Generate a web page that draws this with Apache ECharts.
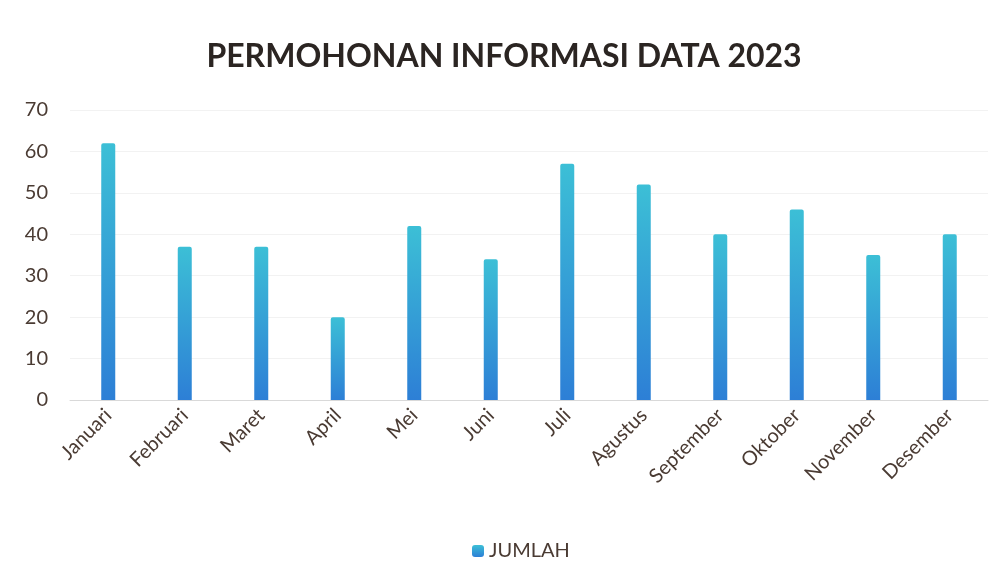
<!DOCTYPE html>
<html>
<head>
<meta charset="utf-8">
<script src="https://cdn.jsdelivr.net/npm/echarts@6/dist/echarts.min.js"></script>
<style>
  html, body { margin: 0; padding: 0; background: #fff; }
  #chart { width: 1008px; height: 583px; }
</style>
</head>
<body>
<div id="chart"></div>
<script>
var months = ['Januari', 'Februari', 'Maret', 'April', 'Mei', 'Juni', 'Juli', 'Agustus', 'September', 'Oktober', 'November', 'Desember'];
var jumlah = [62, 37, 37, 20, 42, 34, 57, 52, 40, 46, 35, 40];
var yTicks = [0, 10, 20, 30, 40, 50, 60, 70];

var textColor = '#4a3b33';
var chart = echarts.init(document.getElementById('chart'));
chart.setOption({
  backgroundColor: '#fff',
  textStyle: { fontFamily: 'Lato' },
  title: {
    text: 'PERMOHONAN INFORMASI DATA 2023',
    left: 'center',
    top: 36,
    textStyle: { fontFamily: 'Lato', fontSize: 32, fontWeight: 'bold', color: '#2b2522' }
  },
  legend: {
    bottom: 17,
    left: 467,
    itemWidth: 12,
    itemHeight: 12,
    itemGap: 4,
    textStyle: { fontSize: 20, color: textColor },
    data: ['JUMLAH']
  },
  grid: { left: 70, right: 20, top: 110, bottom: 183, containLabel: false },
  xAxis: {
    type: 'category',
    data: months,
    axisTick: { show: false },
    axisLine: { lineStyle: { color: '#d9d9d9' } },
    axisLabel: { rotate: 45, fontSize: 20, color: textColor, margin: 12, interval: 0 }
  },
  yAxis: {
    type: 'value',
    min: yTicks[0],
    max: yTicks[yTicks.length - 1],
    interval: 10,
    axisLine: { show: false },
    axisTick: { show: false },
    axisLabel: { fontSize: 20, color: textColor, margin: 22 },
    splitLine: { lineStyle: { color: '#f2f2f2' } }
  },
  series: [{
    name: 'JUMLAH',
    type: 'bar',
    barWidth: 14,
    data: jumlah,
    itemStyle: {
      borderRadius: [2, 2, 0, 0],
      color: new echarts.graphic.LinearGradient(0, 0, 0, 1, [
        { offset: 0, color: '#3cbfd6' },
        { offset: 1, color: '#2d7fd6' }
      ])
    }
  }]
});
</script>
</body>
</html>
